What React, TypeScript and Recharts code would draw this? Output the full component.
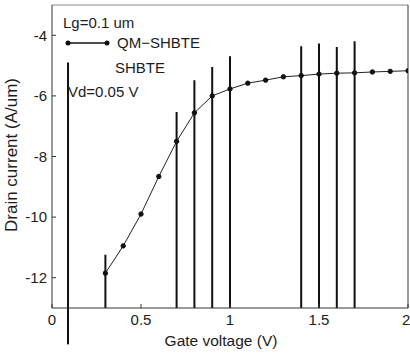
import React from 'react';
import { LineChart, Line, XAxis, YAxis, ReferenceLine } from 'recharts';

// QM-SHBTE curve (log10 of drain current vs gate voltage)
const gateVoltage = [0.3, 0.4, 0.5, 0.6, 0.7, 0.8, 0.9, 1.0, 1.1, 1.2, 1.3, 1.4, 1.5, 1.6, 1.7, 1.8, 1.9, 2.0];
const qmCurrent = [-11.85, -10.95, -9.9, -8.66, -7.5, -6.56, -6.0, -5.77, -5.58, -5.48, -5.37, -5.33, -5.28, -5.25, -5.24, -5.21, -5.19, -5.17];

// SHBTE: spikes rising from below the axis
const spikeVoltage = [0.09, 0.3, 0.7, 0.8, 0.9, 1.0, 1.4, 1.5, 1.6, 1.7];
const spikeTop = [-4.9, -11.24, -6.53, -5.48, -5.05, -4.69, -4.36, -4.27, -4.39, -4.2];
const SPIKE_FLOOR = -20;

const xTicks = [0, 0.5, 1, 1.5, 2];
const yTicks = [-12, -10, -8, -6, -4];

const qmData = gateVoltage.map((v, i) => ({ v, i: qmCurrent[i] }));
const shbteData = spikeVoltage.flatMap((v, i) => [
  { v, i: SPIKE_FLOOR },
  { v, i: spikeTop[i] },
  { v, i: SPIKE_FLOOR },
]);

const FONT = '"Liberation Sans", Arial, sans-serif';
const INK = '#1c1c1c';

const tickStyle = { fontSize: 15, fill: INK, fontFamily: FONT };

const label = (left: number, centerY: number, text: string) => (
  <div
    style={{
      position: 'absolute',
      left,
      top: centerY - 9,
      fontSize: 15,
      lineHeight: '18px',
      fontFamily: FONT,
      color: INK,
      whiteSpace: 'nowrap',
    }}
  >
    {text}
  </div>
);

export default function App() {
  return (
    <div style={{ position: 'absolute', left: 0, top: 0, width: 410, height: 353, background: '#fff' }}>
      <LineChart width={410} height={353} margin={{ top: 0, right: 1, bottom: 0, left: 0 }}>
        <XAxis
          xAxisId="b"
          type="number"
          dataKey="v"
          domain={[0, 2]}
          ticks={xTicks}
          height={45}
          tickSize={-4}
          tickMargin={10}
          tick={tickStyle}
          stroke="#333"
          allowDataOverflow
        />
        <XAxis
          xAxisId="t"
          orientation="top"
          type="number"
          dataKey="v"
          domain={[0, 2]}
          ticks={xTicks}
          height={5}
          tickSize={-4}
          tick={false}
          stroke="#888"
          allowDataOverflow
        />
        <YAxis
          yAxisId="l"
          type="number"
          dataKey="i"
          domain={[-13, -3]}
          ticks={yTicks}
          width={52}
          tickSize={-4}
          tickMargin={9}
          tick={tickStyle}
          stroke="#333"
          allowDataOverflow
        />
        <YAxis
          yAxisId="r"
          orientation="right"
          type="number"
          dataKey="i"
          domain={[-13, -3]}
          ticks={yTicks}
          width={1}
          tickSize={-4}
          tick={false}
          stroke="#333"
          allowDataOverflow
        />
        <Line
          xAxisId="b"
          yAxisId="l"
          data={shbteData}
          dataKey="i"
          type="linear"
          stroke="#111"
          strokeWidth={2}
          dot={false}
          isAnimationActive={false}
        />
        <Line
          xAxisId="b"
          yAxisId="l"
          data={qmData}
          dataKey="i"
          type="linear"
          stroke="#222"
          strokeWidth={1}
          dot={{ r: 2.2, fill: '#111', stroke: '#111', strokeWidth: 1 }}
          isAnimationActive={false}
        />
        <ReferenceLine
          xAxisId="b"
          yAxisId="l"
          segment={[{ x: spikeVoltage[0], y: -13 }, { x: spikeVoltage[0], y: -14.2 }]}
          stroke="#111"
          strokeWidth={2}
          ifOverflow="visible"
        />
      </LineChart>

      {label(63, 23, 'Lg=0.1 um')}
      <svg style={{ position: 'absolute', left: 64, top: 38 }} width={48} height={10}>
        <line x1={4} y1={5} x2={43} y2={5} stroke="#111" strokeWidth={1.5} />
        <circle cx={4} cy={5} r={2.5} fill="#111" />
        <circle cx={43} cy={5} r={2.5} fill="#111" />
      </svg>
      {label(117, 43, 'QM−SHBTE')}
      {label(115, 68, 'SHBTE')}
      {label(68, 92, 'Vd=0.05 V')}

      <div
        style={{
          position: 'absolute',
          left: 12,
          top: 155,
          transform: 'translate(-50%, -50%) rotate(-90deg)',
          fontSize: 17,
          fontFamily: FONT,
          color: INK,
          whiteSpace: 'nowrap',
        }}
      >
        Drain current (A/um)
      </div>
      <div
        style={{
          position: 'absolute',
          left: 221,
          top: 340,
          transform: 'translate(-50%, -50%)',
          fontSize: 15.5,
          lineHeight: '17px',
          fontFamily: FONT,
          color: INK,
          whiteSpace: 'nowrap',
        }}
      >
        Gate voltage (V)
      </div>
    </div>
  );
}
